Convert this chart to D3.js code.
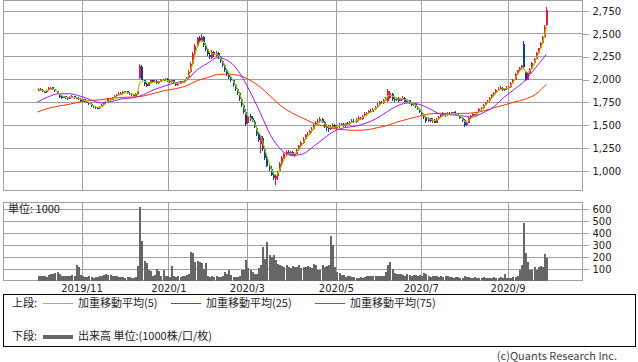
<!DOCTYPE html>
<html>
<head>
<meta charset="utf-8">
<script src="https://cdn.jsdelivr.net/npm/d3@7"></script>
<style>
  body { margin: 0; background: #fff; }
  svg { display: block; font-family: "Noto Sans CJK JP", "Noto Sans", sans-serif; }
  .num { font-family: "DejaVu Sans", sans-serif; }
</style>
</head>
<body>
<svg id="chart" width="638" height="362"></svg>
<script>
// daily sessions, Oct 2019 - Sep 2020 (weekdays minus TSE holidays)
const holidays = [
    "2019-10-14", "2019-10-22", "2019-11-04", "2019-12-31", "2020-01-01", "2020-01-02",
    "2020-01-03", "2020-01-13", "2020-02-11", "2020-02-24", "2020-03-20", "2020-04-29",
    "2020-05-04", "2020-05-05", "2020-05-06", "2020-07-23", "2020-07-24", "2020-08-10",
    "2020-09-21", "2020-09-22"
];

const opens = [
    1880,1900,1890,1865,1860,1885,1900,1915,1895,1870,
    1845,1815,1800,1815,1800,1790,1805,1820,1795,1800,
    1790,1765,1785,1760,1750,1730,1715,1700,1690,1685,
    1705,1720,1740,1760,1795,1780,1800,1820,1830,1850,
    1840,1860,1875,1855,1840,1830,1825,1840,2020,2140,
    1995,1950,1930,1960,1990,1970,1985,1960,1975,2000,
    1990,2010,1985,1970,1990,1960,1940,1955,1975,1970,
    1990,2020,2080,2170,2280,2370,2460,2420,2470,2380,
    2330,2270,2240,2300,2260,2290,2250,2200,2160,2100,
    2060,2030,1990,1940,1900,1850,1790,1720,1640,1520,
    1600,1580,1540,1470,1400,1300,1360,1240,1140,1060,
    1020,960,910,940,1000,1080,1140,1190,1210,1180,
    1210,1170,1190,1230,1270,1310,1350,1390,1410,1440,
    1460,1500,1530,1550,1570,1540,1490,1470,1460,1480,
    1500,1470,1490,1500,1510,1490,1520,1510,1530,1550,
    1540,1560,1580,1570,1600,1620,1630,1660,1650,1680,
    1700,1720,1760,1740,1780,1770,1800,1840,1790,1780,
    1800,1770,1790,1800,1760,1775,1740,1720,1735,1700,
    1680,1640,1620,1590,1550,1580,1550,1560,1530,1570,
    1590,1610,1620,1610,1630,1620,1640,1630,1620,1610,
    1580,1560,1500,1530,1580,1600,1620,1610,1640,1680,
    1690,1720,1750,1770,1800,1830,1850,1890,1900,1910,
    1890,1900,1910,1920,1960,2000,2060,2100,2130,2390,
    2080,2000,2070,2120,2180,2230,2290,2340,2400,2470,
    2600
];
const highs = [
    1910,1905,1895,1875,1890,1915,1920,1920,1900,1875,
    1850,1825,1825,1820,1810,1815,1830,1825,1810,1805,
    1795,1795,1790,1770,1755,1740,1725,1710,1700,1715,
    1730,1750,1770,1800,1800,1810,1830,1845,1860,1860,
    1870,1880,1880,1860,1850,1840,1850,1880,2165,2160,
    2000,1960,1970,2000,2000,1995,1990,1985,2010,2010,
    2020,2015,1995,2000,1995,1965,1965,1985,1985,2000,
    2030,2100,2190,2300,2390,2470,2480,2500,2480,2400,
    2340,2290,2320,2310,2310,2300,2260,2210,2170,2120,
    2080,2040,2000,1950,1910,1860,1800,1730,1680,1620,
    1620,1600,1560,1490,1420,1390,1380,1260,1160,1090,
    1060,990,960,1000,1100,1160,1200,1230,1230,1220,
    1215,1200,1240,1280,1330,1370,1400,1430,1450,1480,
    1510,1550,1570,1590,1580,1550,1510,1500,1500,1530,
    1510,1500,1520,1530,1520,1530,1540,1550,1570,1570,
    1580,1600,1590,1610,1640,1650,1670,1680,1690,1710,
    1740,1770,1770,1790,1810,1900,1880,1850,1810,1810,
    1810,1800,1815,1805,1790,1780,1750,1745,1740,1710,
    1690,1650,1630,1600,1590,1585,1580,1570,1580,1600,
    1620,1640,1630,1640,1640,1650,1650,1660,1630,1615,
    1590,1570,1550,1590,1610,1630,1625,1650,1690,1700,
    1730,1760,1780,1810,1840,1860,1900,1920,1930,1920,
    1910,1930,1935,1970,2010,2070,2110,2140,2160,2420,
    2090,2080,2130,2190,2240,2300,2350,2410,2480,2600,
    2790
];
const lows = [
    1875,1880,1860,1850,1855,1880,1895,1885,1860,1840,
    1800,1790,1795,1790,1780,1785,1800,1790,1785,1780,
    1760,1760,1750,1740,1720,1700,1690,1680,1675,1680,
    1700,1715,1735,1755,1770,1775,1795,1815,1825,1830,
    1835,1850,1845,1830,1820,1815,1820,1835,2010,1990,
    1930,1920,1925,1950,1960,1960,1950,1950,1970,1980,
    1985,1975,1960,1965,1950,1930,1935,1950,1960,1965,
    1985,2015,2070,2160,2270,2360,2400,2410,2360,2310,
    2260,2230,2230,2250,2250,2230,2180,2140,2080,2040,
    2010,1970,1920,1880,1830,1770,1700,1620,1490,1510,
    1550,1540,1470,1380,1320,1200,1220,1120,1040,1000,
    940,900,850,900,990,1070,1130,1170,1170,1170,
    1160,1150,1185,1220,1260,1300,1340,1370,1390,1420,
    1450,1490,1510,1530,1520,1470,1440,1430,1450,1470,
    1460,1460,1470,1490,1480,1480,1500,1505,1520,1530,
    1530,1550,1560,1560,1590,1600,1620,1640,1640,1670,
    1690,1710,1730,1735,1770,1760,1790,1770,1760,1770,
    1760,1765,1780,1750,1755,1730,1710,1715,1690,1670,
    1630,1600,1570,1520,1540,1540,1530,1520,1525,1560,
    1580,1600,1595,1605,1610,1615,1620,1610,1600,1570,
    1540,1480,1495,1525,1570,1590,1600,1605,1635,1660,
    1680,1710,1740,1760,1790,1820,1845,1880,1890,1870,
    1880,1890,1900,1910,1950,1990,2050,2080,2110,2120,
    1980,1990,2060,2110,2170,2220,2280,2330,2390,2460,
    2590
];
const closes = [
    1895,1890,1870,1860,1885,1905,1910,1895,1870,1850,
    1810,1800,1815,1800,1790,1805,1820,1795,1800,1790,
    1770,1785,1760,1750,1730,1710,1700,1690,1685,1705,
    1720,1740,1760,1790,1780,1800,1820,1830,1845,1840,
    1860,1870,1855,1840,1830,1825,1840,1870,2150,2000,
    1950,1930,1960,1990,1970,1985,1960,1975,2000,1990,
    2010,1980,1970,1990,1960,1940,1955,1975,1970,1990,
    2020,2080,2170,2280,2370,2450,2420,2470,2380,2330,
    2280,2250,2300,2270,2290,2250,2200,2160,2100,2060,
    2030,1990,1940,1900,1850,1790,1720,1640,1510,1600,
    1570,1560,1480,1400,1340,1380,1240,1140,1060,1020,
    960,920,940,990,1080,1140,1190,1210,1180,1210,
    1170,1190,1230,1270,1310,1350,1390,1410,1440,1460,
    1500,1530,1550,1570,1540,1490,1470,1460,1480,1500,
    1470,1490,1500,1510,1490,1520,1510,1530,1550,1540,
    1560,1580,1570,1600,1620,1630,1660,1650,1680,1700,
    1720,1760,1740,1780,1800,1880,1850,1790,1780,1800,
    1770,1790,1800,1760,1775,1740,1720,1735,1700,1680,
    1640,1620,1590,1550,1580,1550,1560,1530,1570,1590,
    1610,1620,1610,1630,1620,1640,1630,1620,1610,1580,
    1560,1500,1530,1580,1600,1620,1610,1640,1680,1690,
    1720,1750,1770,1800,1830,1850,1890,1900,1910,1890,
    1900,1910,1920,1960,2000,2060,2100,2130,2150,2140,
    2000,2070,2120,2180,2230,2290,2340,2400,2470,2580,
    2760
];
// volume, thousand shares
const volumes = [
    45,40,38,42,35,50,55,60,70,75,
    55,45,40,42,38,45,50,40,130,115,
    50,40,35,30,38,32,28,35,30,40,
    45,50,55,52,48,45,40,38,35,32,
    30,28,32,30,28,25,30,125,620,330,
    165,150,95,85,45,50,100,80,45,95,
    45,40,35,125,45,35,40,30,45,40,
    50,60,240,235,160,165,155,150,100,150,
    40,35,45,30,40,35,30,45,75,60,
    90,50,35,30,35,45,95,90,175,110,
    90,75,60,55,110,130,285,180,325,215,
    200,215,175,140,130,125,115,130,120,110,
    125,115,120,130,110,120,115,125,120,110,
    140,130,90,95,130,120,125,130,375,300,
    120,75,70,50,48,35,38,40,35,30,
    28,25,30,28,35,40,38,42,40,45,
    38,45,40,45,75,130,160,100,65,55,
    60,55,50,45,55,50,45,52,48,45,
    50,40,65,55,45,35,40,45,38,35,
    40,35,38,42,30,35,28,32,30,25,
    28,40,35,30,25,28,30,25,22,28,
    30,25,28,22,25,30,28,25,30,28,
    60,25,22,28,30,30,40,95,130,485,
    230,160,90,95,120,90,120,125,120,225,
    195
];
// weighted moving averages read every 5th session
const wma25 = [
    1755,1810,1845,1845,1820,1780,1745,1760,1790,1800,
    1835,1890,1930,1965,1990,2100,2175,2240,2205,2085,
    1880,1640,1390,1230,1170,1185,1265,1355,1435,1475,
    1490,1525,1575,1650,1715,1745,1730,1680,1625,1615,
    1605,1590,1635,1700,1805,1895,1990,2130,2275
];
const wma75 = [
    1645,1685,1710,1730,1755,1770,1780,1795,1805,1810,
    1820,1850,1880,1900,1930,1985,2020,2055,2060,2045,
    1995,1920,1815,1710,1635,1580,1525,1490,1465,1450,
    1445,1450,1472,1498,1538,1570,1600,1625,1630,1630,
    1630,1635,1655,1690,1720,1755,1785,1840,1950
];

const priceTicks = [1000, 1250, 1500, 1750, 2000, 2250, 2500, 2750];
const volumeTicks = [100, 200, 300, 400, 500, 600];
const monthKeys = ["2019-11", "2020-01", "2020-03", "2020-05", "2020-07", "2020-09"];
const monthLabels = ["2019/11", "2020/1", "2020/3", "2020/5", "2020/7", "2020/9"];

const upColor = "#f0143c";
const downColor = "#0a3ca0";
const gridColor = "#a0a0a0";
const textColor = "#222";

const fmtDay = d3.timeFormat("%Y-%m-%d");
const dates = d3.timeDay.range(new Date(2019, 9, 1), new Date(2020, 8, 30))
    .filter(d => d.getDay() % 6 !== 0)
    .map(fmtDay)
    .filter(d => !holidays.includes(d));

const data = dates.map((date, i) => ({
    date,
    open: opens[i],
    high: highs[i],
    low: lows[i],
    close: closes[i],
    volume: volumes[i]
}));

// 5 day weighted average from the closes
const wma5 = data.map((d, i) => {
    let num = 0, den = 0;
    for (let k = 0; k < 5 && i - k >= 0; k++) {
        num += (5 - k) * closes[i - k];
        den += 5 - k;
    }
    return num / den;
});

const svg = d3.select("#chart");

const frame = { left: 3.5, right: 582.5 };
const upper = { top: 0.5, bottom: 190.5 };
const lower = { top: 202.5, bottom: 280.5 };

const x = d3.scaleBand()
    .domain(dates)
    .range([36.44, 547.36]);
const cx = d => x(d) + x.bandwidth() / 2;

const y = d3.scaleLinear()
    .domain([1000, 2750])
    .range([171, 11]);

const yv = d3.scaleLinear()
    .domain([0, 600])
    .range([281, 209]);

const monthDates = monthKeys.map(m => dates.find(d => d.startsWith(m)));
const snap = v => Math.round(v - 0.5) + 0.5;

// ---- grids ----
const grid = svg.append("g")
    .attr("stroke", gridColor)
    .attr("stroke-width", 1)
    .attr("shape-rendering", "crispEdges");

grid.selectAll(".hp")
    .data(priceTicks)
    .join("line")
    .attr("x1", frame.left).attr("x2", frame.right)
    .attr("y1", d => snap(y(d))).attr("y2", d => snap(y(d)));

grid.selectAll(".hv")
    .data(volumeTicks)
    .join("line")
    .attr("x1", frame.left).attr("x2", frame.right)
    .attr("y1", d => snap(yv(d))).attr("y2", d => snap(yv(d)));

[upper, lower].forEach(p => {
    grid.append("g")
        .selectAll("line")
        .data(monthDates)
        .join("line")
        .attr("x1", d => snap(cx(d))).attr("x2", d => snap(cx(d)))
        .attr("y1", p.top).attr("y2", p.bottom);

    grid.append("rect")
        .attr("x", frame.left)
        .attr("y", p.top)
        .attr("width", frame.right - frame.left)
        .attr("height", p.bottom - p.top)
        .attr("fill", "none");
});

// ---- axes ----
const styleAxis = g => {
    g.select(".domain").remove();
    g.attr("font-family", null).attr("font-size", 10).attr("class", "num");
    g.selectAll(".tick line").attr("stroke", gridColor).attr("shape-rendering", "crispEdges");
    g.selectAll(".tick text").attr("fill", textColor);
};

svg.append("g")
    .attr("transform", `translate(${frame.right},0)`)
    .call(d3.axisRight(y).tickValues(priceTicks).tickSize(6).tickPadding(4).tickFormat(d3.format(",")))
    .call(styleAxis);

svg.append("g")
    .attr("transform", `translate(${frame.right},0)`)
    .call(d3.axisRight(yv).tickValues(volumeTicks).tickSize(6).tickPadding(4))
    .call(styleAxis);

svg.append("g")
    .attr("class", "num")
    .attr("font-size", 10)
    .attr("fill", textColor)
    .attr("text-anchor", "middle")
    .selectAll("text")
    .data(monthDates)
    .join("text")
    .attr("x", d => cx(d))
    .attr("y", 292)
    .text((d, i) => monthLabels[i]);

// ---- candles ----
const candle = svg.append("g")
    .selectAll("g")
    .data(data)
    .join("g")
    .attr("fill", d => d.close >= d.open ? upColor : downColor)
    .attr("stroke", d => d.close >= d.open ? upColor : downColor)
    .attr("shape-rendering", "crispEdges");

candle.append("line")
    .attr("x1", d => Math.round(cx(d.date)) + 0.5)
    .attr("x2", d => Math.round(cx(d.date)) + 0.5)
    .attr("y1", d => y(d.high))
    .attr("y2", d => y(d.low));

candle.append("rect")
    .attr("stroke", "none")
    .attr("x", d => Math.round(cx(d.date)) - 0.5)
    .attr("width", 2)
    .attr("y", d => y(Math.max(d.open, d.close)))
    .attr("height", d => Math.max(1, Math.abs(y(d.open) - y(d.close))));

// ---- moving averages ----
const line = d3.line().curve(d3.curveMonotoneX);

svg.append("path")
    .attr("fill", "none")
    .attr("stroke", "#ff3300")
    .attr("stroke-width", 1)
    .attr("d", line(wma75.map((v, k) => [cx(dates[k * 5]), y(v)])));

svg.append("path")
    .attr("fill", "none")
    .attr("stroke", "#9a1af0")
    .attr("stroke-width", 1)
    .attr("d", line(wma25.map((v, k) => [cx(dates[k * 5]), y(v)])));

svg.append("path")
    .attr("fill", "none")
    .attr("stroke", "#99cc00")
    .attr("stroke-width", 1.2)
    .attr("d", line(wma5.map((v, i) => [cx(dates[i]), y(v)])));

// ---- volume ----
svg.append("g")
    .attr("fill", "#666")
    .attr("shape-rendering", "crispEdges")
    .selectAll("rect")
    .data(data)
    .join("rect")
    .attr("x", d => Math.round(cx(d.date)) - 0.5)
    .attr("width", 2)
    .attr("y", d => yv(d.volume))
    .attr("height", d => yv(0) - yv(d.volume));

svg.append("text")
    .attr("x", 8)
    .attr("y", 213)
    .attr("font-size", 11)
    .attr("fill", textColor)
    .text("単位: 1000");

// ---- legend ----
const legend = svg.append("g")
    .attr("font-size", 11)
    .attr("fill", textColor);

legend.append("rect")
    .attr("x", 3.5).attr("y", 294.5)
    .attr("width", 632).attr("height", 52)
    .attr("fill", "none")
    .attr("stroke", "#000")
    .attr("shape-rendering", "crispEdges");

legend.append("text").attr("x", 12).attr("y", 307).text("上段:");
legend.append("text").attr("x", 12).attr("y", 340).text("下段:");

const legendItems = [
    { x: 43, color: "#99cc00", label: "加重移動平均(5)" },
    { x: 171, color: "#9a1af0", label: "加重移動平均(25)" },
    { x: 315, color: "#ff3300", label: "加重移動平均(75)" }
];

legendItems.forEach(it => {
    legend.append("line")
        .attr("x1", it.x).attr("x2", it.x + 30)
        .attr("y1", 303.5).attr("y2", 303.5)
        .attr("stroke", it.color);
    legend.append("text")
        .attr("x", it.x + 35)
        .attr("y", 307)
        .text(it.label);
});

legend.append("line")
    .attr("x1", 43).attr("x2", 73)
    .attr("y1", 337).attr("y2", 337)
    .attr("stroke", "#666")
    .attr("stroke-width", 4);
legend.append("text")
    .attr("x", 78)
    .attr("y", 340)
    .text("出来高 単位:(1000株/口/枚)");

svg.append("text")
    .attr("x", 617)
    .attr("y", 360)
    .attr("text-anchor", "end")
    .attr("font-size", 11)
    .attr("fill", "#444")
    .text("(c)Quants Research Inc.");
</script>
</body>
</html>
